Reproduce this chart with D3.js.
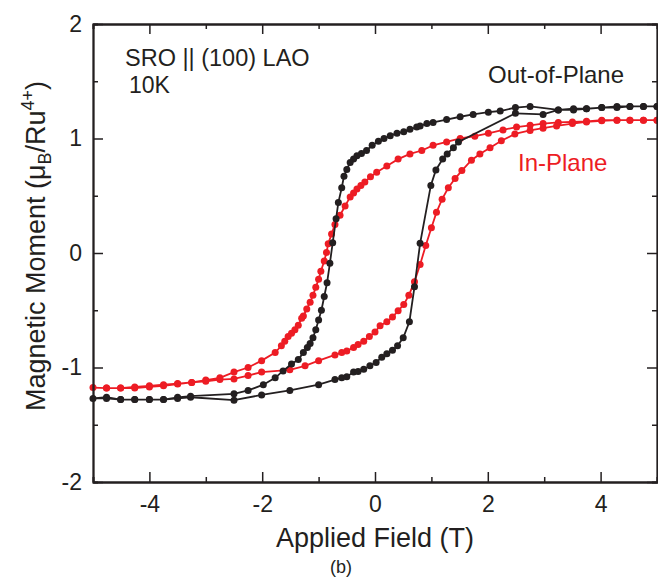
<!DOCTYPE html>
<html>
<head>
<meta charset="utf-8">
<script src="https://cdn.jsdelivr.net/npm/d3@7"></script>
<style>
  body { margin: 0; background: #fff; }
  svg { display: block; font-family: "Liberation Sans", Arial, sans-serif; }
</style>
</head>
<body>
<div id="chart"></div>
<script>
// out-of-plane loop (black): down sweep +5 -> -5, then up sweep -5 -> +5
var oopField = [
  5.0, 4.76, 4.52, 4.29, 4.02, 3.75, 3.52, 3.25, 2.75, 2.49, 2.22, 2.01, 1.74, 1.51, 1.27, 1.03, 0.92, 0.80,
  0.74, 0.62, 0.51, 0.39, 0.27, 0.16, 0.06, -0.05, -0.15, -0.24, -0.32, -0.38, -0.44, -0.50, -0.55, -0.59,
  -0.65, -0.69, -0.75, -0.80, -0.85, -0.90, -0.95, -1.0, -1.05, -1.10, -1.15, -1.20, -1.27, -1.36, -1.48,
  -1.63, -1.77, -1.98, -2.25, -2.50, -3.27, -3.50, -3.75, -4.0, -4.26, -4.51, -4.76, -5.0,
  -4.76, -4.51, -4.26, -4.0, -3.75, -3.50, -3.27, -2.50, -2.01, -1.51, -1.0, -0.71, -0.59, -0.50, -0.38,
  -0.30, -0.20, -0.09, 0.02, 0.12, 0.21, 0.31, 0.40, 0.50, 0.61, 0.70, 0.80, 0.99, 1.08, 1.20, 1.28, 1.39,
  1.48, 2.49, 2.98, 3.25, 3.52, 3.75, 4.02, 4.29, 4.52, 4.76, 5.0
];
var oopMoment = [
  1.28, 1.28, 1.28, 1.28, 1.27, 1.26, 1.25, 1.25, 1.28, 1.27, 1.24, 1.23, 1.21, 1.19, 1.165, 1.14, 1.13, 1.11,
  1.10, 1.08, 1.06, 1.045, 1.025, 1.0, 0.975, 0.94, 0.895, 0.87, 0.85, 0.82, 0.79, 0.73, 0.67, 0.57,
  0.44, 0.30, 0.09, -0.09, -0.26, -0.38, -0.50, -0.585, -0.67, -0.74, -0.79, -0.825, -0.87, -0.93, -0.97,
  -1.03, -1.09, -1.15, -1.20, -1.23, -1.25, -1.26, -1.28, -1.28, -1.28, -1.28, -1.26, -1.27,
  -1.27, -1.28, -1.28, -1.28, -1.28, -1.27, -1.26, -1.285, -1.24, -1.20, -1.15, -1.105, -1.09, -1.08, -1.04,
  -1.035, -1.015, -0.985, -0.956, -0.91, -0.88, -0.85, -0.81, -0.74, -0.60, -0.295, 0.085, 0.59, 0.725, 0.82, 0.865, 0.92,
  0.97, 1.22, 1.21, 1.25, 1.26, 1.26, 1.27, 1.27, 1.28, 1.28, 1.28
];

// in-plane loop (red)
var ipField = [
  5.0, 4.76, 4.52, 4.29, 4.02, 3.75, 3.50, 3.25, 2.98, 2.75, 2.51, 2.27, 2.01, 1.77, 1.51, 1.27, 1.03, 0.83,
  0.62, 0.41, 0.21, 0.03, -0.08, -0.18, -0.25, -0.32, -0.38, -0.44, -0.53, -0.62, -0.71, -0.77, -0.83, -0.86,
  -0.90, -0.96, -1.0, -1.05, -1.10, -1.15, -1.21, -1.27, -1.30, -1.36, -1.42, -1.48, -1.54, -1.60, -1.66,
  -1.77, -2.01, -2.25, -2.50, -2.75, -3.0, -3.25, -3.50, -3.75, -4.0, -4.26, -4.51, -4.76, -5.0,
  -4.76, -4.51, -4.26, -4.0, -3.75, -3.50, -3.25, -3.0, -2.75, -2.50, -2.25, -2.01, -1.51, -1.24, -1.0,
  -0.71, -0.59, -0.50, -0.38, -0.30, -0.20, -0.10, 0.0, 0.09, 0.21, 0.31, 0.41, 0.51, 0.60, 0.70, 0.80,
  0.90, 1.0, 1.09, 1.19, 1.30, 1.42, 1.54, 1.71, 1.86, 2.04, 2.24, 2.48, 2.75, 2.98, 3.22, 3.50, 3.75,
  4.02, 4.29, 4.52, 4.76, 5.0
];
var ipMoment = [
  1.16, 1.16, 1.16, 1.16, 1.16, 1.15, 1.145, 1.14, 1.13, 1.115, 1.10, 1.075, 1.045, 1.02, 1.0, 0.97, 0.94, 0.895,
  0.865, 0.82, 0.76, 0.705, 0.665, 0.62, 0.59, 0.56, 0.525, 0.49, 0.41, 0.33, 0.25, 0.165, 0.08, 0.005,
  -0.07, -0.16, -0.23, -0.30, -0.37, -0.43, -0.49, -0.55, -0.57, -0.63, -0.67, -0.70, -0.73, -0.77, -0.81,
  -0.87, -0.94, -1.0, -1.04, -1.09, -1.11, -1.13, -1.145, -1.16, -1.17, -1.18, -1.18, -1.18, -1.175,
  -1.18, -1.18, -1.17, -1.16, -1.15, -1.14, -1.13, -1.12, -1.105, -1.10, -1.07, -1.04, -1.02, -0.985, -0.94,
  -0.89, -0.87, -0.855, -0.825, -0.80, -0.77, -0.73, -0.69, -0.635, -0.60, -0.56, -0.505, -0.45, -0.37, -0.25, -0.10,
  0.065, 0.22, 0.355, 0.47, 0.57, 0.65, 0.72, 0.81, 0.865, 0.92, 0.98, 1.04, 1.07, 1.09, 1.11, 1.13, 1.145,
  1.155, 1.16, 1.16, 1.16, 1.16
];

var xTicks = [-4, -2, 0, 2, 4];
var xMinor = [-5, -3, -1, 1, 3, 5];
var yTicks = [-2, -1, 0, 1, 2];
var yMinor = [-1.5, -0.5, 0.5, 1.5];

var width = 658, height = 580;
var margin = {top: 24, right: 1, bottom: 98, left: 93};

var svg = d3.select('#chart').append('svg')
    .attr('width', width)
    .attr('height', height);

var x = d3.scaleLinear().domain([-5, 5]).range([margin.left, width - margin.right]);
var y = d3.scaleLinear().domain([-2, 2]).range([height - margin.bottom, margin.top]);

var black = '#231f20', red = '#ed1c24';

function zip(xs, ys){
    return xs.map(function(v, i){ return [v, ys[i]]; });
}

var line = d3.line()
    .x(function(d){ return x(d[0]); })
    .y(function(d){ return y(d[1]); });

var series = [
    {data: zip(ipField, ipMoment), color: red},
    {data: zip(oopField, oopMoment), color: black}
];

series.forEach(function(s){
    svg.append('path')
        .datum(s.data)
        .attr('fill', 'none')
        .attr('stroke', s.color)
        .attr('stroke-width', 1.8)
        .attr('d', line);
    svg.append('g')
        .selectAll('circle')
        .data(s.data)
        .enter().append('circle')
            .attr('cx', function(d){ return x(d[0]); })
            .attr('cy', function(d){ return y(d[1]); })
            .attr('r', 3.5)
            .attr('fill', s.color);
});

// axes, ticks pointing inward
function styleAxis(g){
    g.selectAll('.domain').attr('stroke', black).attr('stroke-width', 1.8);
    g.selectAll('.tick line').attr('stroke', black).attr('stroke-width', 1.5);
    g.selectAll('text').attr('fill', black).attr('font-size', 23)
        .attr('font-family', '"Liberation Sans", Arial, sans-serif');
}

// plain hyphen for negatives, like the original
var fmt = function(d){ return String(d); };

var xB = height - margin.bottom, yL = margin.left;

svg.append('g').attr('transform', 'translate(0,' + xB + ')')
    .call(d3.axisBottom(x).tickValues(xTicks).tickSizeInner(-10).tickSizeOuter(0).tickPadding(14)
        .tickFormat(fmt))
    .call(styleAxis);
svg.append('g').attr('transform', 'translate(0,' + xB + ')')
    .call(d3.axisBottom(x).tickValues(xMinor).tickSize(-5).tickFormat(''))
    .call(styleAxis);
svg.append('g').attr('transform', 'translate(0,' + margin.top + ')')
    .call(d3.axisTop(x).tickValues(xTicks).tickSizeInner(-10).tickSizeOuter(0).tickFormat(''))
    .call(styleAxis);
svg.append('g').attr('transform', 'translate(0,' + margin.top + ')')
    .call(d3.axisTop(x).tickValues(xMinor).tickSize(-5).tickFormat(''))
    .call(styleAxis);

svg.append('g').attr('transform', 'translate(' + yL + ',0)')
    .call(d3.axisLeft(y).tickValues(yTicks).tickSizeInner(-10).tickSizeOuter(0).tickPadding(11)
        .tickFormat(fmt))
    .call(styleAxis);
svg.append('g').attr('transform', 'translate(' + yL + ',0)')
    .call(d3.axisLeft(y).tickValues(yMinor).tickSize(-5).tickFormat(''))
    .call(styleAxis);
svg.append('g').attr('transform', 'translate(' + (width - margin.right) + ',0)')
    .call(d3.axisRight(y).tickValues(yTicks).tickSizeInner(-10).tickSizeOuter(0).tickFormat(''))
    .call(styleAxis);
svg.append('g').attr('transform', 'translate(' + (width - margin.right) + ',0)')
    .call(d3.axisRight(y).tickValues(yMinor).tickSize(-5).tickFormat(''))
    .call(styleAxis);

// axis titles
svg.append('text')
    .attr('x', (x(-5) + x(5)) / 2)
    .attr('y', 547)
    .attr('text-anchor', 'middle')
    .attr('font-size', 27)
    .attr('fill', black)
    .text('Applied Field (T)');

var yTitle = svg.append('text')
    .attr('transform', 'translate(45,' + 246 + ') rotate(-90)')
    .attr('text-anchor', 'middle')
    .attr('font-size', 27)
    .attr('fill', black);
yTitle.append('tspan').text('Magnetic Moment (\u03bc');
yTitle.append('tspan').attr('font-size', 18).attr('dy', 6).text('B');
yTitle.append('tspan').attr('dy', -6).text('/Ru');
yTitle.append('tspan').attr('font-size', 18).attr('dy', -11).text('4+');
yTitle.append('tspan').attr('dy', 11).text(')');

// annotations
svg.append('text').attr('x', 125).attr('y', 66).attr('font-size', 23.5).attr('fill', black)
    .text('SRO || (100) LAO');
svg.append('text').attr('x', 129).attr('y', 93).attr('font-size', 23).attr('fill', black)
    .text('10K');
svg.append('text').attr('x', 488).attr('y', 83).attr('font-size', 24).attr('fill', black)
    .text('Out-of-Plane');
svg.append('text').attr('x', 518).attr('y', 171).attr('font-size', 24).attr('fill', red)
    .text('In-Plane');
svg.append('text').attr('x', 341).attr('y', 573).attr('text-anchor', 'middle')
    .attr('font-size', 18).attr('fill', black)
    .text('(b)');
</script>
</body>
</html>
